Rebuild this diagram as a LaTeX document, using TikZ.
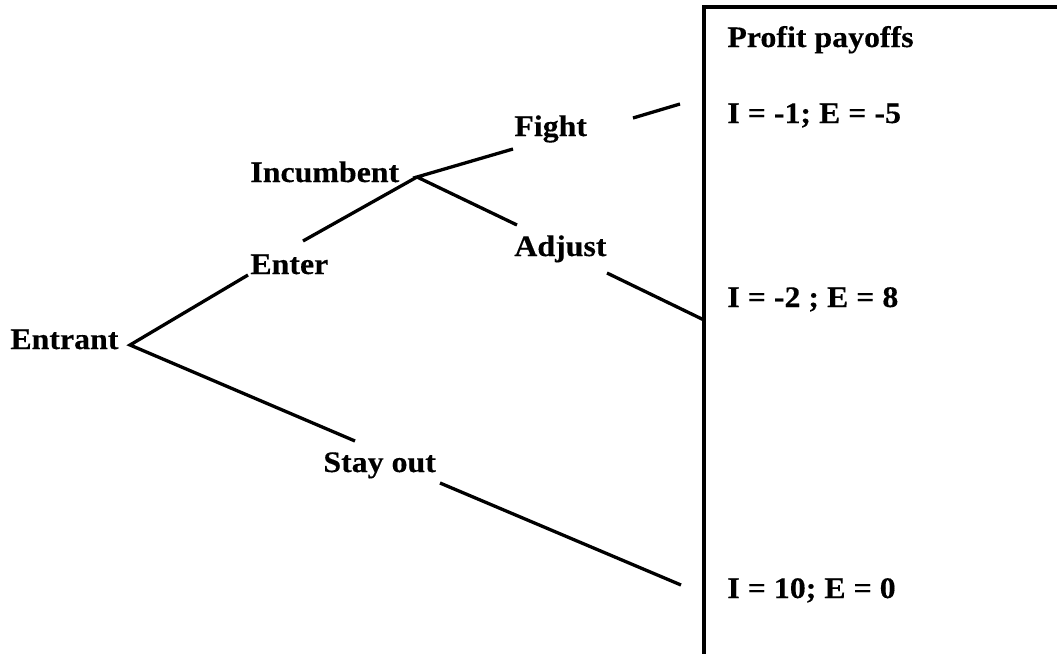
\documentclass[tikz,border=0pt]{standalone}
\usepackage{fontspec}
\setmainfont{Liberation Serif}[FakeStretch=1.07,FakeBold=0.3]
\begin{document}
\begin{tikzpicture}[x=0.5pt,y=-0.5pt,
  lbl/.style={anchor=base west, inner sep=0pt, font=\fontsize{14.9}{17}\selectfont\bfseries},
  branch/.style={line width=1.65pt, line cap=butt},
  frame/.style={line width=2pt}]
\useasboundingbox (0,0) rectangle (1057,654);
\clip (0,0) rectangle (1057,654);
% payoff frame (open to the right and bottom)
\draw[frame] (704,7) rectangle (1080,680);
% labels
\node[lbl] (entrant) at (10,349) {Entrant};
\node[lbl] (enter) at (250,274) {Enter};
\node[lbl] (incumbent) at (250,182) {Incumbent};
\node[lbl] (fight) at (514,136) {Fight};
\node[lbl] (adjust) at (514,256) {Adjust};
\node[lbl] (stayout) at (323,472) {Stay out};
\node[lbl] (title) at (727,47) {Profit payoffs};
\node[lbl] (p1) at (727,123) {I = -1; E = -5};
\node[lbl] (p2) at (727,307) {I = -2 ; E = 8};
\node[lbl] (p3) at (727,598) {I = 10; E = 0};
% tree vertices and segment ends
\coordinate (vE) at (130,345);
\coordinate (vI) at (417,177);
\coordinate (a1) at (248,275);
\coordinate (a2) at (303,241);
\coordinate (b1) at (513,149);
\coordinate (b2) at (633,118);
\coordinate (b3) at (680,104);
\coordinate (c1) at (517,225);
\coordinate (c2) at (607,273);
\coordinate (c3) at (704,320);
\coordinate (d1) at (355,441);
\coordinate (d2) at (440,483);
\coordinate (d3) at (681,585);
% branches
\draw[branch] (a1) -- (vE) -- (d1);
\draw[branch] (a2) -- (vI);
\draw[branch] (b1) -- (vI) -- (c1);
\draw[branch] (b2) -- (b3);
\draw[branch] (c2) -- (c3);
\draw[branch] (d2) -- (d3);
\end{tikzpicture}
\end{document}
